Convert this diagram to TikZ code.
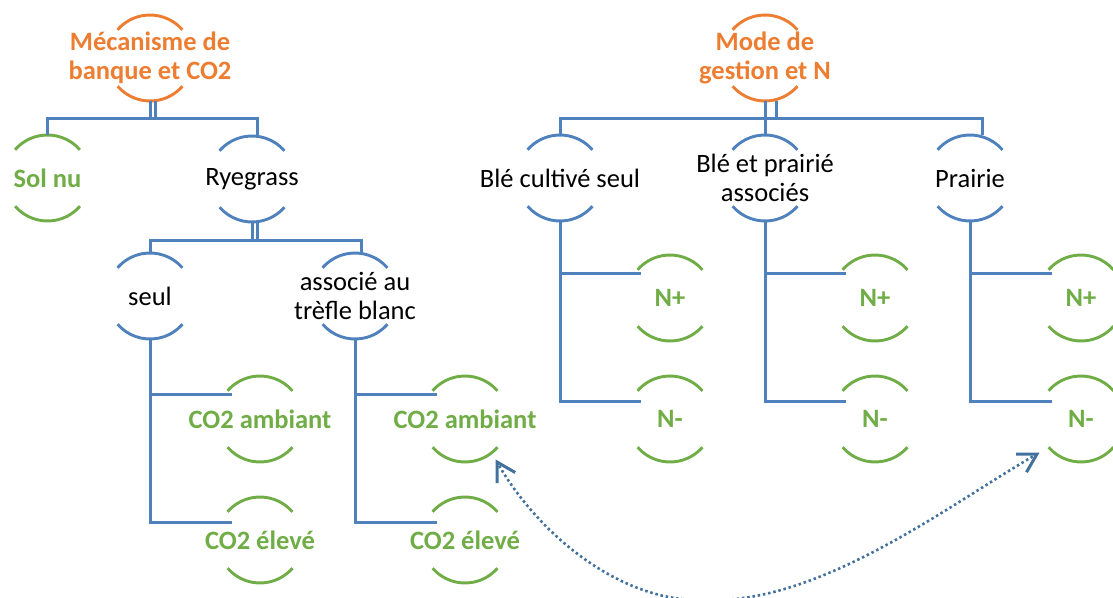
\documentclass[tikz,border=0pt]{standalone}
\usepackage{fontspec}
\setmainfont{Carlito}
\usetikzlibrary{calc}
\definecolor{orng}{HTML}{ED7D31}
\definecolor{grn}{HTML}{70AD47}
\definecolor{blu}{HTML}{4F81BD}
\definecolor{arrb}{HTML}{41719C}
\begin{document}
\begin{tikzpicture}[x=1pt,y=1pt,
  box/.style={rectangle, minimum height=86pt, minimum width=86pt, inner sep=0pt, align=center, font=\fontsize{26.5}{29}\selectfont},
  rootnode/.style={box, text=orng, font=\fontsize{26.5}{29}\selectfont\bfseries},
  leafnode/.style={box, text=grn, font=\fontsize{26.5}{29}\selectfont\bfseries},
  midnode/.style={box, text=black},
  arcline/.style={line width=2.9pt},
  conn/.style={blu, line width=3pt},
  dotline/.style={arrb, line width=2.6pt, dash pattern=on 2.5pt off 2.8pt},
  headline/.style={arrb, line width=3pt, solid, miter limit=10}]
\useasboundingbox (0,0) rectangle (1113,-597);
% nodes
\node[rootnode] (r1) at (150,-58) {Mécanisme de\\banque et CO2};
\node[leafnode] (solnu) at (47.5,-178) {Sol nu};
\node[midnode] (ryeg) at (252,-179) {Ryegrass};
\node[midnode] (seul) at (150,-296) {seul};
\node[midnode] (assoc) at (355,-296) {associé au\\trèfle blanc};
\node[leafnode] (amb1) at (260,-419) {CO2 ambiant};
\node[leafnode] (ele1) at (260,-540) {CO2 élevé};
\node[leafnode] (amb2) at (465,-419) {CO2 ambiant};
\node[leafnode] (ele2) at (465,-540) {CO2 élevé};
\node[rootnode] (r2) at (765,-58) {Mode de\\gestion et N};
\node[midnode] (ble) at (560,-178) {Blé cultivé seul};
\node[midnode] (blep) at (765,-178) {Blé et prairié\\associés};
\node[midnode] (prai) at (970,-178) {Prairie};
\node[leafnode] (np1) at (670,-298) {N+};
\node[leafnode] (nm1) at (670,-419) {N-};
\node[leafnode] (np2) at (875,-298) {N+};
\node[leafnode] (nm2) at (875,-419) {N-};
\node[leafnode] (np3) at (1081,-298) {N+};
\node[leafnode] (nm3) at (1081,-419) {N-};
% arcs
\foreach \n/\c in {r1/orng, r2/orng, solnu/grn, ryeg/blu, seul/blu, assoc/blu,
  amb1/grn, ele1/grn, amb2/grn, ele2/grn, ble/blu, blep/blu, prai/blu,
  np1/grn, nm1/grn, np2/grn, nm2/grn, np3/grn, nm3/grn}{
  \draw[arcline,\c] ($(\n.center)+(41:43)$) arc[start angle=41,end angle=139,radius=43];
  \draw[arcline,\c] ($(\n.center)+(221:43)$) arc[start angle=221,end angle=319,radius=43];
}
% left tree
\coordinate (b1) at ($(r1.south)+(0,-17)$);
\draw[conn] (r1.south) -- (b1);
\draw[conn] ([xshift=5pt]r1.south) -- ([xshift=5pt]b1);
\draw[conn] (solnu.north) -- (solnu.north |- b1) -| ([xshift=5pt]ryeg.north);
\coordinate (b2) at ($(ryeg.south)+(0,-18)$);
\draw[conn] (ryeg.south) -- (b2);
\draw[conn] ([xshift=5pt]ryeg.south) -- ([xshift=5pt]b2);
\draw[conn] (seul.north) -- (seul.north |- b2) -| ([xshift=6pt]assoc.north);
\draw[conn] (seul.south) |- ($(amb1.center)+(-28,25)$);
\draw[conn] (seul.south) |- ($(ele1.center)+(-28,18)$);
\draw[conn] (assoc.south) |- ($(amb2.center)+(-28,25)$);
\draw[conn] (assoc.south) |- ($(ele2.center)+(-28,18)$);
% right tree
\coordinate (b3) at ($(r2.south)+(0,-17)$);
\draw[conn] (r2.south) -- (blep.north);
\draw[conn] ([xshift=11pt]r2.south) -- ([xshift=11pt]b3);
\draw[conn] (ble.north) -- (ble.north |- b3) -| ([xshift=12pt]prai.north);
\draw[conn] (ble.south) |- ($(np1.center)+(-29,25)$);
\draw[conn] (ble.south) |- ($(nm1.center)+(-29,18)$);
\draw[conn] (blep.south) |- ($(np2.center)+(-29,25)$);
\draw[conn] (blep.south) |- ($(nm2.center)+(-29,18)$);
\draw[conn] (prai.south) |- ($(np3.center)+(-29,25)$);
\draw[conn] (prai.south) |- ($(nm3.center)+(-29,18)$);
% dotted arrows
\coordinate (src) at (705,-600);
\coordinate (tipA) at ($(amb2.center)+(32,-43)$);
\coordinate (tipB) at ($(nm3.center)+(-44,-35)$);
\draw[dotline] (src) .. controls (620,-603) and (537,-533) .. (tipA);
\draw[dotline] (src) .. controls (820,-605) and (950,-504) .. (tipB);
\draw[headline] ($(tipA)+(0,-21)$) -- (tipA) -- ($(tipA)+(18.2,-10.5)$);
\draw[headline] ($(tipB)+(-21,0)$) -- (tipB) -- ($(tipB)+(-10.5,-18.2)$);
\end{tikzpicture}
\end{document}
